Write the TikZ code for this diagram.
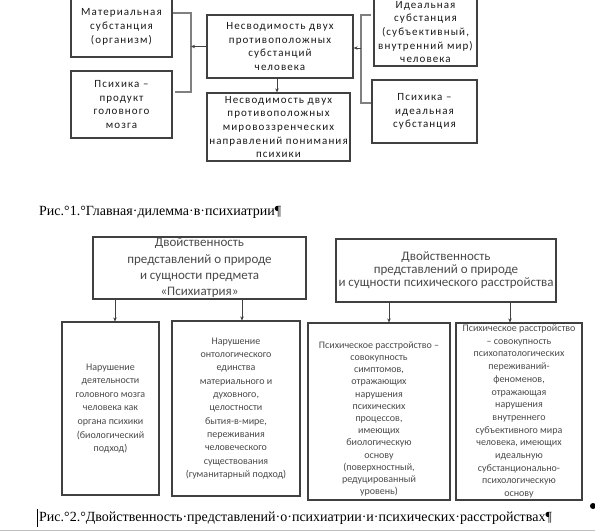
\documentclass[tikz,border=0pt]{standalone}
\usepackage{fontspec}
\setmainfont{Liberation Serif}
\newfontfamily\topfont[LetterSpace=10]{Carlito}
\newfontfamily\boxfont{Carlito}
\usetikzlibrary{arrows.meta,calc}
\definecolor{boxc}{HTML}{404040}
\definecolor{brc}{HTML}{808080}
\definecolor{txtc}{HTML}{1A1A1A}
\definecolor{gtxt}{HTML}{4A4A4A}
\begin{document}
\begin{tikzpicture}[x=1pt,y=-1pt,
  sz/.style 2 args={minimum width=#1, minimum height=#2},
  topbox/.style={draw=boxc, line width=1.3pt, inner sep=0pt, align=center,
    text=txtc, font=\topfont\fontsize{11}{13.7}\selectfont},
  bigbox/.style={draw=boxc, line width=1.1pt, inner sep=0pt, align=center, text=gtxt},
  smallbox/.style={draw=boxc, line width=1.1pt, inner sep=0pt, align=center, text=gtxt},
  smalltxt/.style={inner sep=0pt, align=center, text=gtxt},
  bracket/.style={draw=brc, line width=2pt},
  arr/.style={draw=boxc, line width=0.8pt, -{Stealth[length=4pt,width=3.5pt]}},
  captxt/.style={inner sep=0pt, text=black, font=\fontsize{14}{16}\selectfont}]
\useasboundingbox (0,0) rectangle (595,531);
\fill[white] (0,0) rectangle (595,531);

% top part
\node[topbox, sz={101}{60}] (A) at (121.5,27) {Материальная\\субстанция\\(организм)};
\node[topbox, sz={101}{67}] (B) at (121.5,104.5) {Психика –\\продукт\\головного\\мозга};
\node[topbox, sz={146}{63}] (C) at (280,46.5) {Несводимость двух\\противоположных\\субстанций\\человека};
\node[topbox, sz={143}{68}] (D) at (278.5,127) {Несводимость двух\\противоположных\\мировоззренческих\\направлений понимания\\психики};
\node[topbox, sz={103}{68}] (E) at (425.5,32) {Идеальная\\субстанция\\(субъективный,\\внутренний мир)\\человека};
\node[topbox, sz={105}{63}] (F) at (424.5,111.5) {Психика –\\идеальная\\субстанция};

\coordinate (lb1) at (191,12.7);
\coordinate (lb2) at (191,92);
\draw[bracket] (A.east |- lb1) -- (lb1) -- (lb2) -- ($(B.east |- lb2)+(2,0)$);
\draw[arr] (C.west) -- (C.west -| lb1);

\coordinate (rb1) at (361,15);
\coordinate (rb2) at (361,103);
\coordinate (ra) at (361,48);
\draw[bracket] ($(E.west |- rb1)+(-2,0)$) -- (rb1) -- (rb2) -- (F.west |- rb2);
\draw[arr] (ra) -- (C.east |- ra);

\coordinate (cd) at (277,0);
\draw[arr] (C.south -| cd) -- (D.north -| cd);

\node[captxt, anchor=west] (cap1) at (39,212) {Рис.°1.°Главная·дилемма·в·психиатрии¶};

% bottom part
\node[bigbox, sz={213}{62}, font=\boxfont\fontsize{13}{16.4}\selectfont] (G) at (199.5,268)
  {Двойственность\\представлений о природе\\и сущности предмета\\«Психиатрия»};
\node[bigbox, sz={220}{63}, font=\boxfont\fontsize{13}{13}\selectfont] (H) at (446,270.5)
  {Двойственность\\представлений о природе\\и сущности психического расстройства};

\node[smallbox, sz={97}{173}, font=\boxfont\fontsize{10}{13.6}\selectfont] (I) at (110.5,408.5)
  {Нарушение\\деятельности\\головного мозга\\человека как\\органа психики\\(биологический\\подход)};
\node[smallbox, sz={128}{175}, font=\boxfont\fontsize{10}{13.3}\selectfont] (J) at (236,408.5)
  {Нарушение\\онтологического\\единства\\материального и\\духовного,\\целостности\\бытия-в-мире,\\переживания\\человеческого\\существования\\(гуманитарный подход)};
\node[smallbox, sz={142}{177}] (K) at (379,411.5) {};
\node[smalltxt, font=\boxfont\fontsize{10}{12.2}\selectfont] (Kt) at (379,419)
  {Психическое расстройство –\\совокупность\\симптомов,\\отражающих\\нарушения\\психических\\процессов,\\имеющих\\биологическую\\основу\\(поверхностный,\\редуцированный\\уровень)};
\node[smallbox, sz={126}{177}, font=\boxfont\fontsize{10}{12.7}\selectfont] (L) at (519,411.5)
  {Психическое расстройство\\– совокупность\\психопатологических\\переживаний-\\феноменов,\\отражающая\\нарушения\\внутреннего\\субъективного мира\\человека, имеющих\\идеальную\\субстанционально-\\психологическую\\основу};

\coordinate (x1) at (115,0);
\coordinate (x2) at (242,0);
\coordinate (x3) at (389,0);
\coordinate (x4) at (510,0);
\draw[arr] (G.south -| x1) -- (I.north -| x1);
\draw[arr] (G.south -| x2) -- (J.north -| x2);
\draw[arr] (H.south -| x3) -- (K.north -| x3);
\draw[arr] (H.south -| x4) -- (L.north -| x4);

\node[captxt, anchor=west] (cap2) at (39,518) {Рис.°2.°Двойственность·представлений·о·психиатрии·и·психических·расстройствах¶};
\draw[black, line width=0.8pt] (37,509) -- (37,527);
\fill[black] (593,506) circle (3);
\draw[gray!50, line width=0.8pt] (0,530.5) -- (595,530.5);
\end{tikzpicture}
\end{document}
